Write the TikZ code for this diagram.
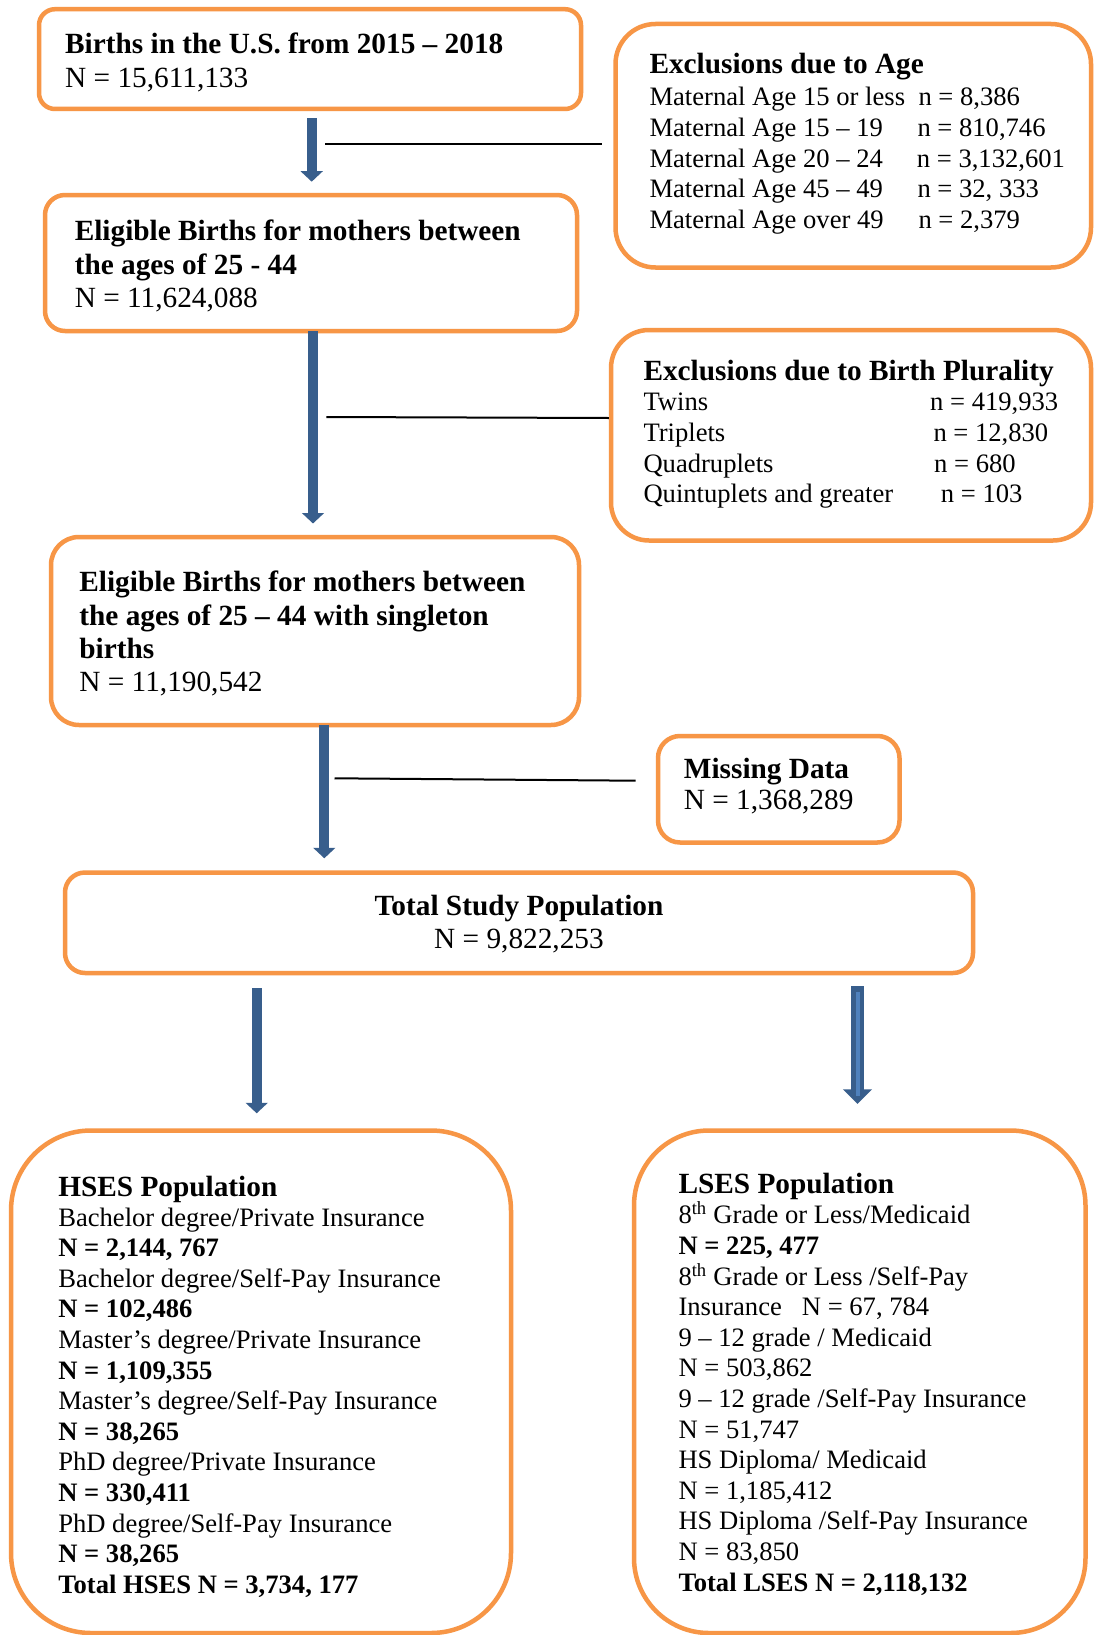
\documentclass[tikz,border=0pt]{standalone}
\usepackage{fontspec}
\setmainfont{Liberation Serif}
\usetikzlibrary{arrows.meta}
\definecolor{boxorange}{HTML}{F79646}
\definecolor{arrowblue}{HTML}{385E8C}
\definecolor{stripeblue}{HTML}{4F81BD}
\newcommand{\fbig}{\fontsize{29.3}{33.3}\selectfont}
\newcommand{\fsmall}{\fontsize{26.6}{30.6}\selectfont}
\newcommand{\linestack}[2]{\vtop{\baselineskip=#1\relax\lineskiplimit=-100pt\relax #2}}
\tikzset{
  box/.style={draw=boxorange, line width=4.5pt, rectangle, inner sep=0pt, fill=none},
  txt/.style={anchor=base west, inner sep=0pt, font=\fbig},
  stxt/.style={anchor=base west, inner sep=0pt, font=\fsmall},
  flowarrow/.style={draw=arrowblue, line width=10pt, -{Triangle[width=21.7pt,length=10.5pt]}},
  sideline/.style={draw=black, line width=2pt}
}
\begin{document}
\begin{tikzpicture}[x=1pt,y=-1pt]
\fill[white] (0,0) rectangle (1094,1635);
\useasboundingbox (0,0) rectangle (1094,1635);

% boxes
\node[box, rounded corners=16pt, minimum width=542pt, minimum height=99.8pt] (b1) at (310,59.1) {};
\node[box, rounded corners=40pt, minimum width=475.5pt, minimum height=243.5pt] (bage) at (853.25,145.75) {};
\node[box, rounded corners=20pt, minimum width=532pt, minimum height=136pt] (b2) at (311,263) {};
\node[box, rounded corners=38pt, minimum width=480pt, minimum height=210.5pt] (bplur) at (851,435.25) {};
\node[box, rounded corners=28pt, minimum width=528pt, minimum height=188pt] (b3) at (315,631) {};
\node[box, rounded corners=22pt, minimum width=241.5pt, minimum height=106.5pt] (bmiss) at (778.75,789.25) {};
\node[box, rounded corners=20pt, minimum width=908pt, minimum height=100.5pt] (btot) at (519,922.75) {};
\node[box, rounded corners=80pt, minimum width=500pt, minimum height=502.5pt] (bhses) at (261,1381.75) {};
\node[box, rounded corners=75pt, minimum width=451.5pt, minimum height=502.5pt] (blses) at (859.75,1381.75) {};

% texts
\node[txt] (t1) at (65,54) {\linestack{33.3pt}{%
  \hbox{\bfseries Births in the U.S. from 2015 – 2018}%
  \hbox{N = 15,611,133}}};

\node[stxt] (tage) at (649.3,74) {\linestack{30.6pt}{%
  \hbox{\fbig\bfseries Exclusions due to Age}\vskip1.4pt
  \hbox{\makebox[269pt][l]{Maternal Age 15 or less}n = 8,386}%
  \hbox{\makebox[268pt][l]{Maternal Age 15 – 19}n = 810,746}%
  \hbox{\makebox[267.4pt][l]{Maternal Age 20 – 24}n = 3,132,601}%
  \hbox{\makebox[268pt][l]{Maternal Age 45 – 49}n = 32, 333}%
  \hbox{\makebox[269pt][l]{Maternal Age over 49}n = 2,379}}};

\node[txt] (t2) at (74.6,240.7) {\linestack{33.3pt}{%
  \hbox{\bfseries Eligible Births for mothers between}%
  \hbox{\bfseries the ages of 25 - 44}%
  \hbox{N = 11,624,088}}};

\node[stxt] (tplur) at (643.3,380) {\linestack{30.7pt}{%
  \hbox{\fbig\bfseries Exclusions due to Birth Plurality}%
  \hbox{\makebox[286.7pt][l]{Twins}n = 419,933}%
  \hbox{\makebox[290pt][l]{Triplets}n = 12,830}%
  \hbox{\makebox[290.7pt][l]{Quadruplets}n = 680}%
  \hbox{\makebox[297.4pt][l]{Quintuplets and greater}n = 103}}};

\node[txt] (t3) at (79.2,591.7) {\linestack{33.3pt}{%
  \hbox{\bfseries Eligible Births for mothers between}%
  \hbox{\bfseries the ages of 25 – 44 with singleton}%
  \hbox{\bfseries births}%
  \hbox{N = 11,190,542}}};

\node[txt] (tmiss) at (683.7,778.3) {\linestack{31pt}{%
  \hbox{\bfseries Missing Data}%
  \hbox{N = 1,368,289}}};

\node[txt, anchor=base] (ttot) at (519,915) {\linestack{33.3pt}{%
  \hbox to 400pt{\hfil\bfseries Total Study Population\hfil}%
  \hbox to 400pt{\hfil N = 9,822,253\hfil}}};

\node[stxt] (thses) at (58.1,1196) {\linestack{30.6pt}{%
  \hbox{\fbig\bfseries HSES Population}\vskip-0.6pt
  \hbox{Bachelor degree/Private Insurance}%
  \hbox{\bfseries N = 2,144, 767}%
  \hbox{Bachelor degree/Self-Pay Insurance}%
  \hbox{\bfseries N = 102,486}%
  \hbox{Master’s degree/Private Insurance}%
  \hbox{\bfseries N = 1,109,355}%
  \hbox{Master’s degree/Self-Pay Insurance}%
  \hbox{\bfseries N = 38,265}%
  \hbox{PhD degree/Private Insurance}%
  \hbox{\bfseries N = 330,411}%
  \hbox{PhD degree/Self-Pay Insurance}%
  \hbox{\bfseries N = 38,265}%
  \hbox{\bfseries Total HSES N = 3,734, 177}}};

\node[stxt] (tlses) at (678.3,1193.3) {\linestack{30.6pt}{%
  \hbox{\fbig\bfseries LSES Population}%
  \hbox{8\textsuperscript{th} Grade or Less/Medicaid}%
  \hbox{\bfseries N = 225, 477}%
  \hbox{8\textsuperscript{th} Grade or Less /Self-Pay}%
  \hbox{\makebox[123.4pt][l]{Insurance}N = 67, 784}%
  \hbox{9 – 12 grade / Medicaid}%
  \hbox{N = 503,862}%
  \hbox{9 – 12 grade /Self-Pay Insurance}%
  \hbox{N = 51,747}%
  \hbox{HS Diploma/ Medicaid}%
  \hbox{N = 1,185,412}%
  \hbox{HS Diploma /Self-Pay Insurance}%
  \hbox{N = 83,850}%
  \hbox{\bfseries Total LSES N = 2,118,132}}};

% arrow end points
\coordinate (a1s) at (311.7,118.3);
\coordinate (a1e) at (311.7,181.7);
\coordinate (a2s) at (313,331);
\coordinate (a2e) at (313,523.5);
\coordinate (a3s) at (324.3,725);
\coordinate (a3e) at (324.3,858.3);
\coordinate (a4s) at (256.7,988.3);
\coordinate (a4e) at (256.7,1113.3);
\coordinate (a5s) at (857.5,986);
\coordinate (a5e) at (857.5,1104);

\draw[flowarrow] (a1s) -- (a1e);
\draw[flowarrow] (a2s) -- (a2e);
\draw[flowarrow] (a3s) -- (a3e);
\draw[flowarrow] (a4s) -- (a4e);
\draw[draw=arrowblue, line width=13.6pt, -{Triangle[width=28.3pt,length=14.7pt]}] (a5s) -- (a5e);
\coordinate (a5is) at (857.5,991.7);
\coordinate (a5ie) at (857.5,1096);
\draw[draw=stripeblue, line width=4pt] (a5is) -- (a5ie);

% side lines
\coordinate (l1s) at (325,144.3);
\coordinate (l1e) at (601.7,144.3);
\draw[sideline] (l1s) -- (l1e);
\coordinate (l2s) at (326.4,417);
\draw[sideline] (l2s) -- (bplur.west |- 0,418);
\coordinate (l3s) at (334.5,778.3);
\coordinate (l3e) at (635.6,780.7);
\draw[sideline] (l3s) -- (l3e);
\end{tikzpicture}
\end{document}
